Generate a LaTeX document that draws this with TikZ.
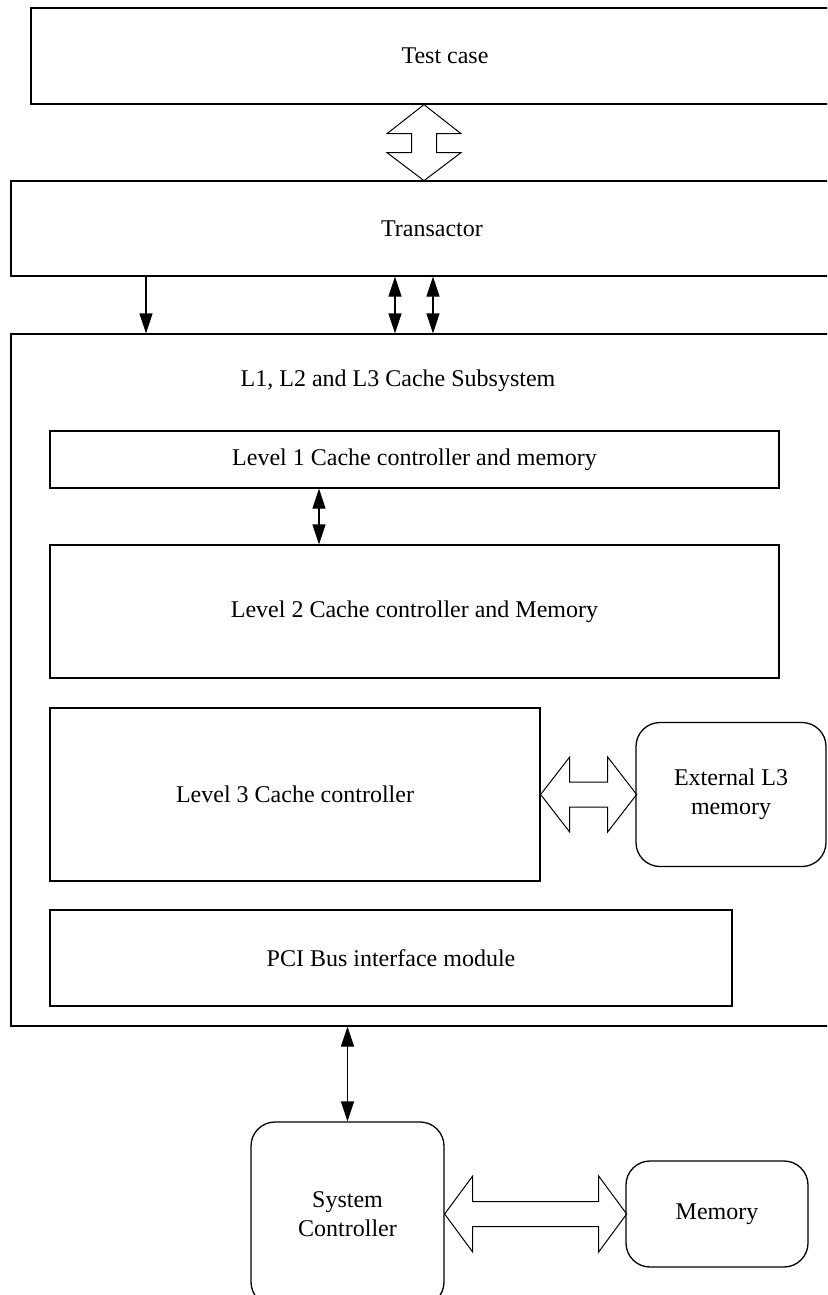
\documentclass[tikz,border=0pt]{standalone}
\usepackage{fontspec}
\setmainfont{Liberation Serif}
\usetikzlibrary{arrows.meta, calc}

\begin{document}
\begin{tikzpicture}[x=1pt, y=-1pt, line width=1.3pt,
    blk/.style={draw, rectangle, inner sep=0pt},
    rblk/.style={draw, rectangle, rounded corners=24pt, inner sep=0pt, align=center},
    fat/.style={draw, line width=1pt, line join=miter},
    tip/.style={-{Triangle[length=20pt,width=13pt]}},
    tips/.style={{Triangle[length=20pt,width=13pt]}-{Triangle[length=20pt,width=13pt]}}]
\path[use as bounding box, clip] (0,0) rectangle (827,1295);
\begin{scope}[every node/.style={font=\fontsize{24}{29}\selectfont}]
    %test case + transactor
    \node[blk, minimum width=828pt, minimum height=96pt] (tc) at (445,56) {Test case};
    \node[blk, minimum width=842pt, minimum height=95pt] (tr) at (432,228.5) {Transactor};
    %cache subsystem
    \node[blk, minimum width=842pt, minimum height=692pt] (sub) at (432,680) {};
    \node (ttl) at (398,381) {L1, L2 and L3 Cache Subsystem};
    \node[blk, minimum width=729pt, minimum height=57pt] (l1) at (414.5,459.5) {Level 1 Cache controller and memory};
    \node[blk, minimum width=729pt, minimum height=133pt] (l2) at (414.5,611.5) {Level 2 Cache controller and Memory};
    \node[blk, minimum width=490pt, minimum height=173pt] (l3) at (295,794.5) {Level 3 Cache controller};
    \node[rblk, minimum width=190pt, minimum height=144pt] (ext) at (731,794.5) {External L3\\memory};
    \node[blk, minimum width=682pt, minimum height=96pt] (pci) at (391,958) {PCI Bus interface module};
    %system side
    \node[rblk, minimum width=193pt, minimum height=184pt] (sys) at (347.5,1214) {System\\Controller};
    \node[rblk, minimum width=182pt, minimum height=106pt] (mem) at (717,1214) {Memory};

    \path [tip] ($(tr.south)+(-286,0)$) edge ($(sub.north)+(-286,0)$);
    \path [tips] ($(tr.south)+(-37,0)$) edge ($(sub.north)+(-37,0)$);
    \path [tips] ($(tr.south)+(1,0)$) edge ($(sub.north)+(1,0)$);
    \path [tips] ($(l1.south)+(-95.5,0)$) edge ($(l2.north)+(-95.5,0)$);
    \path [tips] (sys.north |- sub.south) edge (sys.north);
\end{scope}
    %hollow arrows
    \draw[fat] ($(tc.south)+(-21,0)$) -- ++(37,29) -- ++(-24.5,0) -- ++(0,19) -- ++(24.5,0) -- ++(-37,28)
        -- ++(-37,-28) -- ++(24.5,0) -- ++(0,-19) -- ++(-24.5,0) -- cycle;
    \draw[fat] (l3.east) -- ++(29,-37.5) -- ++(0,25) -- ++(38,0) -- ++(0,-25) -- ++(29,37.5)
        -- ++(-29,37.5) -- ++(0,-25) -- ++(-38,0) -- ++(0,25) -- cycle;
    \draw[fat] (sys.east) -- ++(28,-38) -- ++(0,25.5) -- ++(126,0) -- ++(0,-25.5) -- ++(28,38)
        -- ++(-28,38) -- ++(0,-25.5) -- ++(-126,0) -- ++(0,25.5) -- cycle;
\end{tikzpicture}
\end{document}
